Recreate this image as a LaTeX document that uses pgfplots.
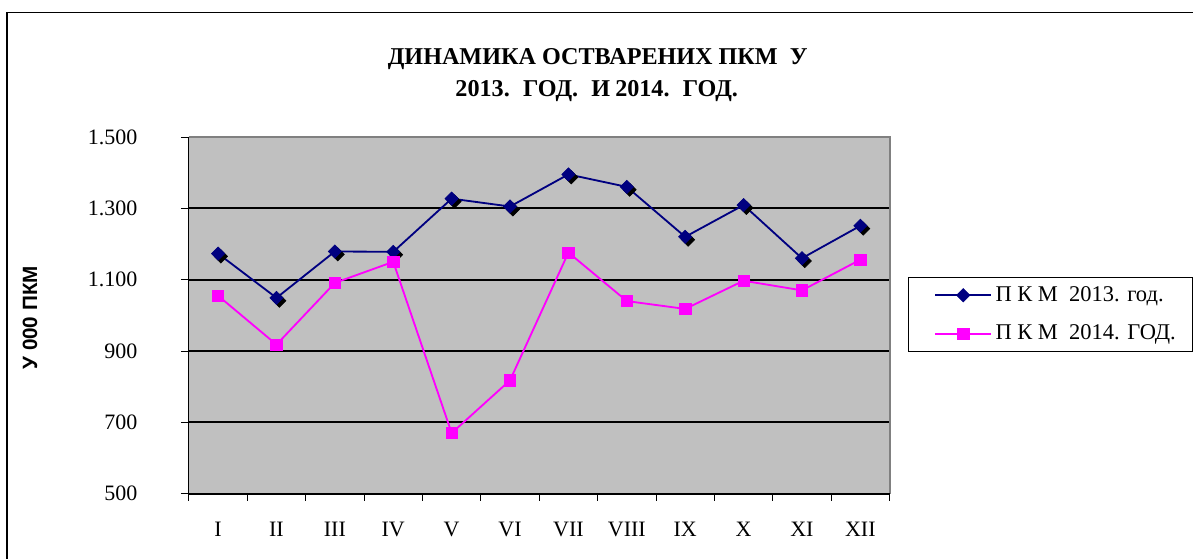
\documentclass[border=0pt]{standalone}
\usepackage{fontspec}
\setmainfont{Liberation Serif}
\setsansfont{Liberation Sans}
\usepackage{pgfplots}
\pgfplotsset{compat=1.18}
\definecolor{navyc}{RGB}{0,0,128}
\definecolor{magc}{RGB}{255,0,255}
\definecolor{bgc}{RGB}{192,192,192}
\definecolor{brd}{RGB}{128,128,128}
\pgfplotstableread{
x y13 y14
0.5 1173 1055
1.5 1049 918
2.5 1179 1091
3.5 1178 1150
4.5 1327 670
5.5 1305 818
6.5 1395 1176
7.5 1360 1040
8.5 1220 1018
9.5 1309 1097
10.5 1160 1070
11.5 1251 1156
}\datatable
\begin{document}
\begin{tikzpicture}
\begin{scope}[x=0.6pt,y=-0.6pt]
\useasboundingbox (0,0) rectangle (1193,559);
\draw[line width=0.9pt] (7,560) -- (7,12.5) -- (1194,12.5);
\node[font=\fontsize{14.5}{16}\selectfont\bfseries] at (598,59) {ДИНАМИКА ОСТВАРЕНИХ ПКМ\ \ У};
\node[font=\fontsize{14.5}{16}\selectfont\bfseries] at (597,91) {2013.\hspace{8pt}ГОД.\hspace{8pt}И\hspace{3pt}2014.\hspace{8pt}ГОД.};
\end{scope}
\begin{axis}[
  at={(113.4pt,-296.4pt)}, anchor=south west,
  scale only axis, width=420.6pt, height=214.2pt,
  xmin=0, xmax=12, ymin=500, ymax=1500,
  axis background/.style={fill=bgc},
  axis line style={draw=none},
  tick pos=left,
  xtick={0.5,1.5,2.5,3.5,4.5,5.5,6.5,7.5,8.5,9.5,10.5,11.5},
  xticklabels={I,II,III,IV,V,VI,VII,VIII,IX,X,XI,XII},
  minor xtick={0,1,2,3,4,5,6,7,8,9,10,11,12},
  major x tick style={draw=none},
  minor x tick style={black, line width=0.5pt},
  minor tick length=4.2pt,
  ytick={500,700,900,1100,1300,1500},
  y tick style={black, line width=0.5pt},
  major tick length=4.8pt,
  tick align=outside,
  ymajorgrids, major grid style={black, line width=1.1pt},
  /pgf/number format/.cd, 1000 sep={.}, assume math mode=true, /pgfplots/.cd,
  ticklabel style={font=\fontsize{13.2}{15}\selectfont},
  yticklabel style={inner sep=0pt, xshift=-26pt},
  xticklabel style={inner sep=0pt, yshift=-12pt},
  ylabel={У 000 ПКМ},
  ylabel style={at={(axis description cs:-0.2268,0.493)}, anchor=center, font=\fontsize{12.4}{14}\selectfont\sffamily\bfseries},
  legend style={at={(axis description cs:1.0257,0.6078)}, anchor=north west, draw=black, line width=0.6pt, fill=white,
    font=\fontsize{13.5}{15}\selectfont, inner xsep=8pt, inner ysep=3.5pt, row sep=8.6pt},
  legend cell align=left,
  legend image code/.code={\path (0pt,0pt); \draw[mark repeat=2,mark phase=2,#1] plot coordinates {(7.8pt,0pt) (24.6pt,0pt) (41.4pt,0pt)};},
  after end axis/.code={
    \draw[brd, line width=1.2pt] (rel axis cs:0,1) -- (rel axis cs:1,1) -- (rel axis cs:1,0);
    \draw[black, line width=0.6pt] (rel axis cs:0,1) -- (rel axis cs:0,0) -- (rel axis cs:1,0);
  },
]
\addplot[forget plot, only marks, mark=square*, mark size=2.8pt, mark options={fill=black, draw=black, xshift=1.7pt, yshift=-1.7pt, rotate=45}] table[x=x, y=y13] {\datatable};
\addplot[navyc, line width=1.1pt, mark=square*, mark size=2.8pt, mark options={fill=navyc, draw=navyc, rotate=45, line width=0.4pt}] table[x=x, y=y13] {\datatable};
\addlegendentry{П К М\ \ 2013. год.}
\addplot[magc, line width=1.1pt, mark=square*, mark size=3.4pt, mark options={fill=magc, draw=magc, line width=0.4pt}] table[x=x, y=y14] {\datatable};
\addlegendentry{П К М\ \ 2014. ГОД.}
\end{axis}
\end{tikzpicture}
\end{document}
